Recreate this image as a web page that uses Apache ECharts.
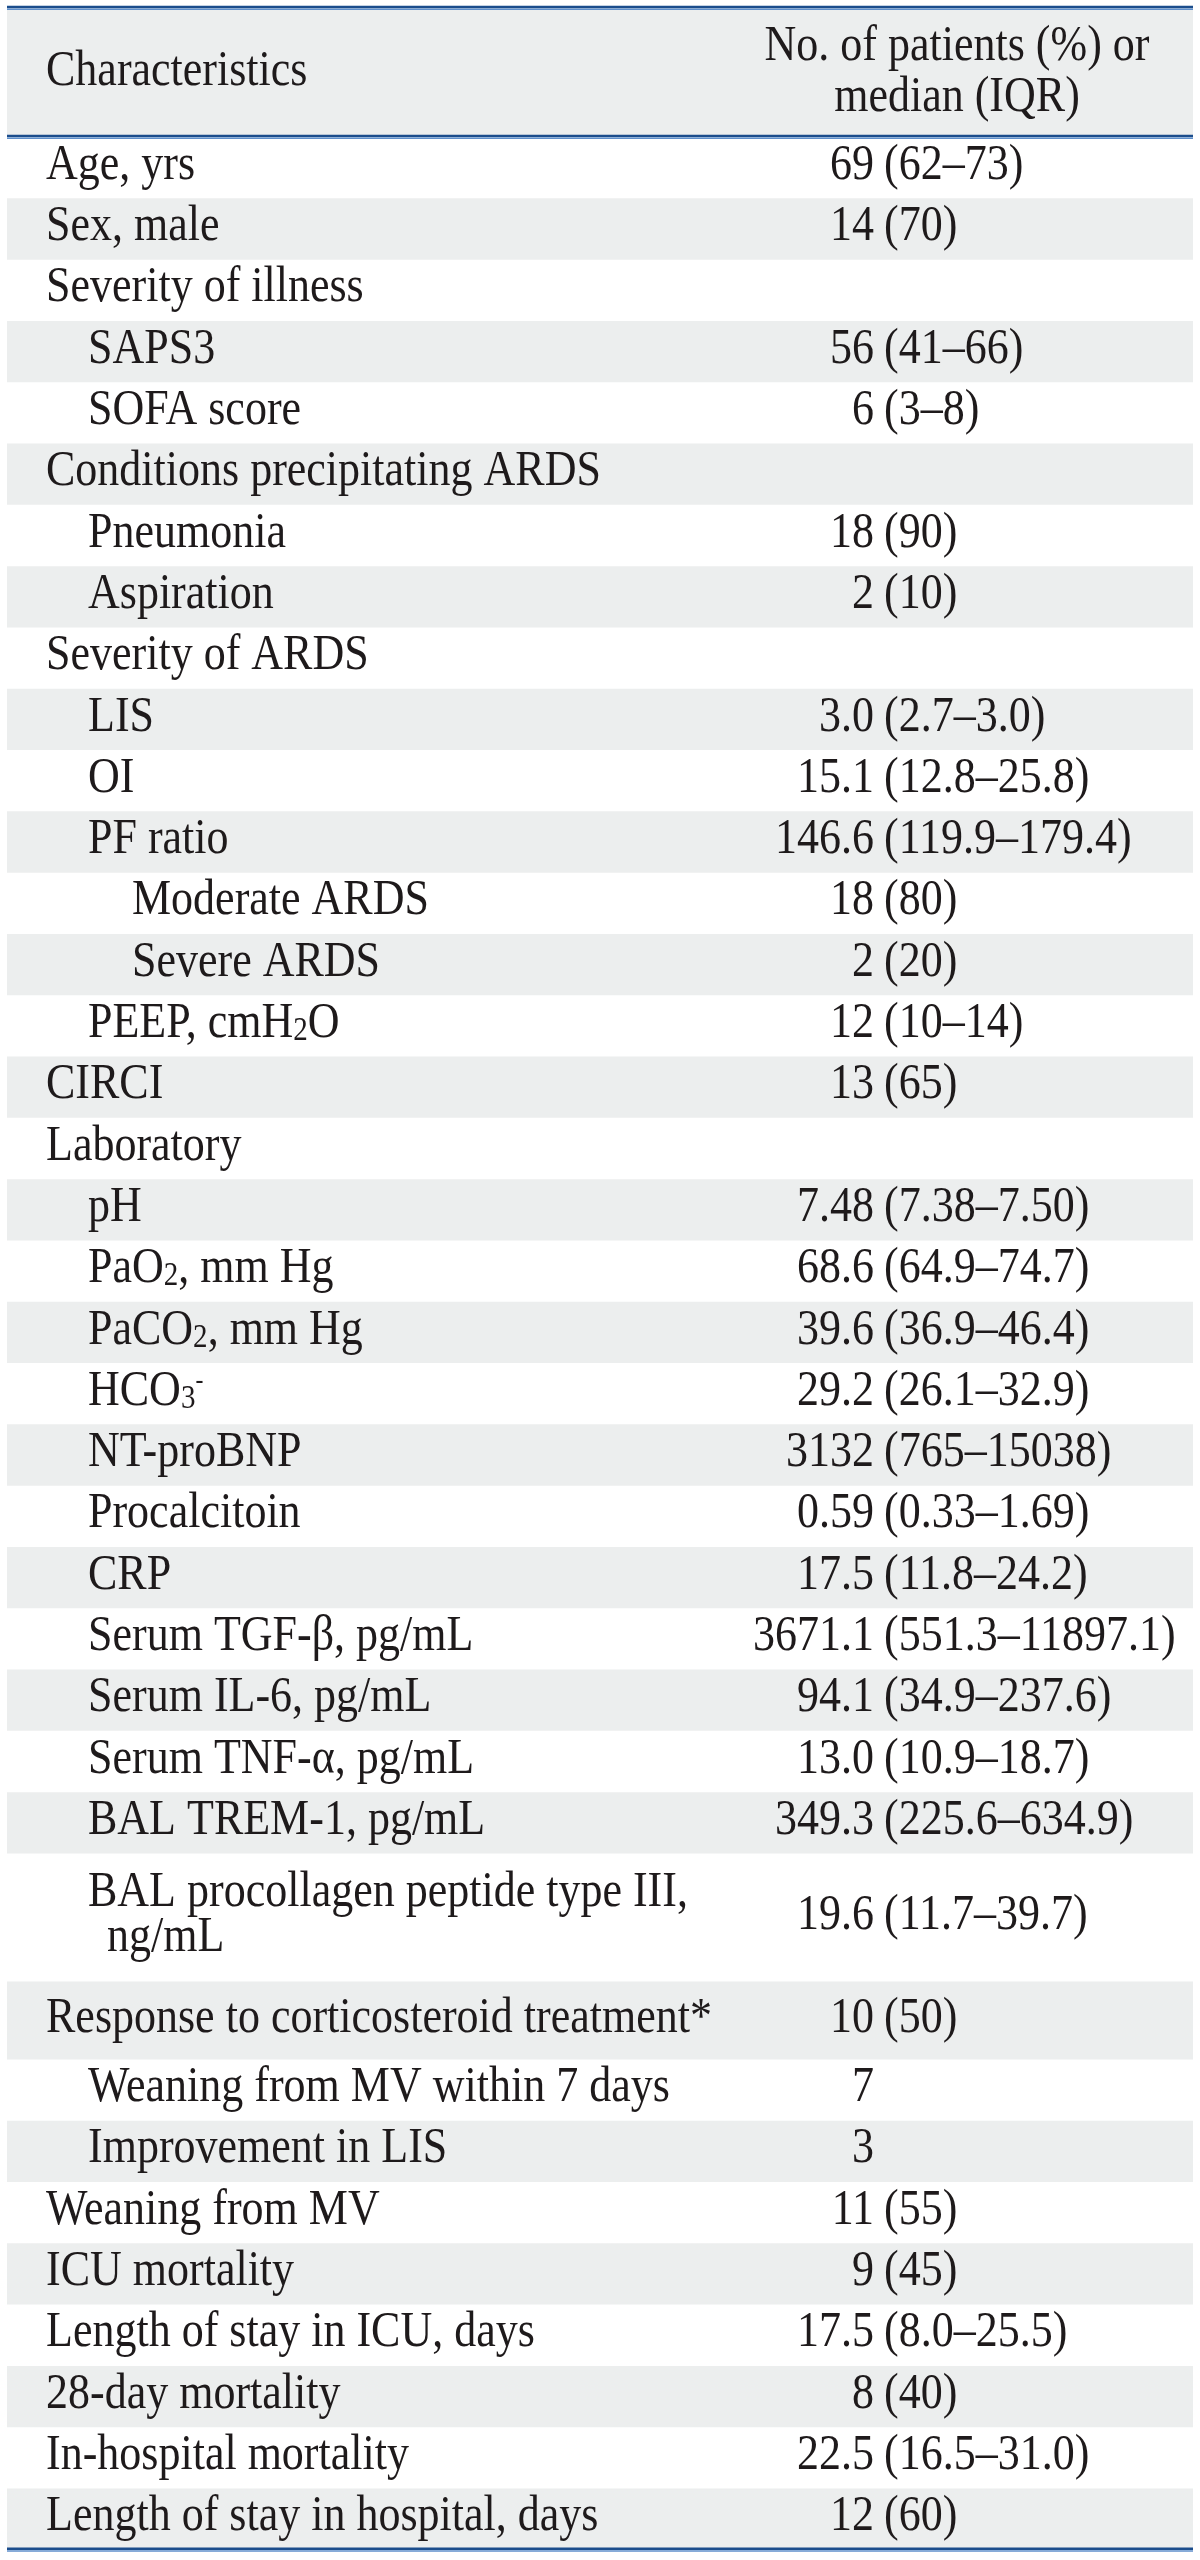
<!DOCTYPE html>
<html>
<head>
<meta charset="utf-8">
<script src="https://cdn.jsdelivr.net/npm/echarts@6/dist/echarts.min.js"></script>
<style>
html,body{margin:0;padding:0;background:#ffffff;}
#chart{width:1200px;height:2560px;}
</style>
</head>
<body>
<div id="chart"></div>
<script>
// ---------- data ----------
const headerTitles = ['Characteristics', 'No. of patients (%) or\nmedian (IQR)'];

const characteristics = [
  'Age, yrs',
  'Sex, male',
  'Severity of illness',
  'SAPS3',
  'SOFA score',
  'Conditions precipitating ARDS',
  'Pneumonia',
  'Aspiration',
  'Severity of ARDS',
  'LIS',
  'OI',
  'PF ratio',
  'Moderate ARDS',
  'Severe ARDS',
  'PEEP, cmH{sub|2}O',
  'CIRCI',
  'Laboratory',
  'pH',
  'PaO{sub|2}, mm Hg',
  'PaCO{sub|2}, mm Hg',
  'HCO{sub|3}{sup|-}',
  'NT-proBNP',
  'Procalcitoin',
  'CRP',
  'Serum TGF-β, pg/mL',
  'Serum IL-6, pg/mL',
  'Serum TNF-α, pg/mL',
  'BAL TREM-1, pg/mL',
  'BAL procollagen peptide type III,\nng/mL',
  'Response to corticosteroid treatment*',
  'Weaning from MV within 7 days',
  'Improvement in LIS',
  'Weaning from MV',
  'ICU mortality',
  'Length of stay in ICU, days',
  '28-day mortality',
  'In-hospital mortality',
  'Length of stay in hospital, days'
];

const values = [
  '69 (62–73)',
  '14 (70)',
  '',
  '56 (41–66)',
  '6 (3–8)',
  '',
  '18 (90)',
  '2 (10)',
  '',
  '3.0 (2.7–3.0)',
  '15.1 (12.8–25.8)',
  '146.6 (119.9–179.4)',
  '18 (80)',
  '2 (20)',
  '12 (10–14)',
  '13 (65)',
  '',
  '7.48 (7.38–7.50)',
  '68.6 (64.9–74.7)',
  '39.6 (36.9–46.4)',
  '29.2 (26.1–32.9)',
  '3132 (765–15038)',
  '0.59 (0.33–1.69)',
  '17.5 (11.8–24.2)',
  '3671.1 (551.3–11897.1)',
  '94.1 (34.9–237.6)',
  '13.0 (10.9–18.7)',
  '349.3 (225.6–634.9)',
  '19.6 (11.7–39.7)',
  '10 (50)',
  '7',
  '3',
  '11 (55)',
  '9 (45)',
  '17.5 (8.0–25.5)',
  '8 (40)',
  '22.5 (16.5–31.0)',
  '12 (60)'
];

const indentLevels = [
  0, 0, 0, 1, 1, 0, 1, 1, 0, 1, 1, 1, 2, 2, 1, 0, 0, 1, 1, 1,
  1, 1, 1, 1, 1, 1, 1, 1, 1, 0, 1, 1, 0, 0, 0, 0, 0, 0
];

const sectionBreaks = ['Response to corticosteroid treatment*'];

// ---------- layout / style ----------
const FS = 50;
const SX = 0.88;
const FF = "'Liberation Serif','Times New Roman',Times,serif";
const INK = '#1e1a1b';
const BAND = '#eceeee';
const RULE_DARK = '#1b4d8c';
const RULE_LIGHT = '#5f8fcb';
const ROW_PX = 61.3;
const TABLE_W = 1186;
const INDENT = [39, 81, 125];
const HANG = 19;
const VALUE_RIGHT = 867;
const PAREN_LEFT = 877;
const HEADER_VALUE_CENTER = 950;
const HEADER_UNITS = 2.105;
const LINE_GAP = 45;

const rowUnits = characteristics.map(function (c) {
  let u = c.indexOf('\n') >= 0 ? 2.09 : 1;
  if (sectionBreaks.indexOf(c) >= 0) u += 0.27;
  return u;
});
const rowTops = [];
let acc = HEADER_UNITS;
rowUnits.forEach(function (u) { rowTops.push(acc); acc += u; });
const TOTAL_UNITS = acc;

const RICH = {
  sub: { fontSize: 33, fontFamily: FF, lineHeight: 30, verticalAlign: 'bottom' },
  sup: { fontSize: 27, fontFamily: FF, lineHeight: 28, verticalAlign: 'top' }
};

function txt(s, x, y, align) {
  return {
    type: 'text',
    x: x, y: y,
    scaleX: SX, scaleY: 1,
    style: {
      legacy: false,
      text: s, x: 0, y: 0,
      align: align, verticalAlign: 'middle',
      fontSize: FS, fontFamily: FF, fill: INK,
      lineHeight: 48,
      rich: RICH
    }
  };
}

function renderRow(params, api) {
  const i = params.dataIndex;
  const top = rowTops[i];
  const bot = top + rowUnits[i];
  const p0 = api.coord([0, top]);
  const p1 = api.coord([TABLE_W, bot]);
  const children = [];
  if (i % 2 === 1) {
    children.push({
      type: 'rect',
      shape: { x: p0[0], y: p0[1], width: p1[0] - p0[0], height: p1[1] - p0[1] },
      style: { fill: BAND }
    });
  }
  const cy = (p0[1] + p1[1]) / 2 - 2;
  const lines = characteristics[i].split('\n');
  lines.forEach(function (ln, k) {
    const ly = cy + (k - (lines.length - 1) / 2) * LINE_GAP;
    const x = api.coord([INDENT[indentLevels[i]] + (k > 0 ? HANG : 0), top])[0];
    children.push(txt(ln, x, ly, 'left'));
  });
  const v = values[i];
  if (v) {
    const cut = v.indexOf(' (');
    const head = cut >= 0 ? v.slice(0, cut) : v;
    const tail = cut >= 0 ? v.slice(cut + 1) : '';
    children.push(txt(head, api.coord([VALUE_RIGHT, top])[0], cy, 'right'));
    if (tail) children.push(txt(tail, api.coord([PAREN_LEFT, top])[0], cy, 'left'));
  }
  return { type: 'group', children: children };
}

function renderHeader(params, api) {
  const p0 = api.coord([0, 0]);
  const p1 = api.coord([TABLE_W, HEADER_UNITS]);
  const cy = (p0[1] + p1[1]) / 2;
  const children = [{
    type: 'rect',
    shape: { x: p0[0], y: p0[1], width: p1[0] - p0[0], height: p1[1] - p0[1] },
    style: { fill: BAND }
  }];
  children.push(txt(headerTitles[0], api.coord([INDENT[0], 0])[0], cy - 1, 'left'));
  const hv = headerTitles[1].split('\n');
  hv.forEach(function (ln, k) {
    const ly = cy + (k - (hv.length - 1) / 2) * 51;
    children.push(txt(ln, api.coord([HEADER_VALUE_CENTER, 0])[0], ly, 'center'));
  });
  return { type: 'group', children: children };
}

function renderRule(params, api) {
  const yv = api.value(0);
  const a = api.coord([0, yv]);
  const b = api.coord([TABLE_W, yv]);
  return {
    type: 'group',
    children: [
      { type: 'line', shape: { x1: a[0], y1: a[1] - 1, x2: b[0], y2: b[1] - 1 }, style: { stroke: RULE_DARK, lineWidth: 2.4 } },
      { type: 'line', shape: { x1: a[0], y1: a[1] + 1.2, x2: b[0], y2: b[1] + 1.2 }, style: { stroke: RULE_LIGHT, lineWidth: 1.4 } }
    ]
  };
}

const chart = echarts.init(document.getElementById('chart'), null, { renderer: 'canvas' });
chart.setOption({
  animation: false,
  backgroundColor: '#ffffff',
  grid: { left: 7, top: 8, width: TABLE_W, height: TOTAL_UNITS * ROW_PX, containLabel: false },
  xAxis: { type: 'value', min: 0, max: TABLE_W, show: false },
  yAxis: { type: 'value', min: 0, max: TOTAL_UNITS, inverse: true, show: false },
  series: [
    {
      type: 'custom', name: 'header', clip: false, silent: true,
      data: [[0, 0]], renderItem: renderHeader, z: 1
    },
    {
      type: 'custom', name: 'rows', clip: false, silent: true,
      data: characteristics.map(function (c, i) { return [0, i]; }),
      renderItem: renderRow, z: 2
    },
    {
      type: 'custom', name: 'rules', clip: false, silent: true,
      data: [[0], [HEADER_UNITS], [TOTAL_UNITS]],
      dimensions: ['y'],
      renderItem: renderRule, z: 3
    }
  ]
});
</script>
</body>
</html>
